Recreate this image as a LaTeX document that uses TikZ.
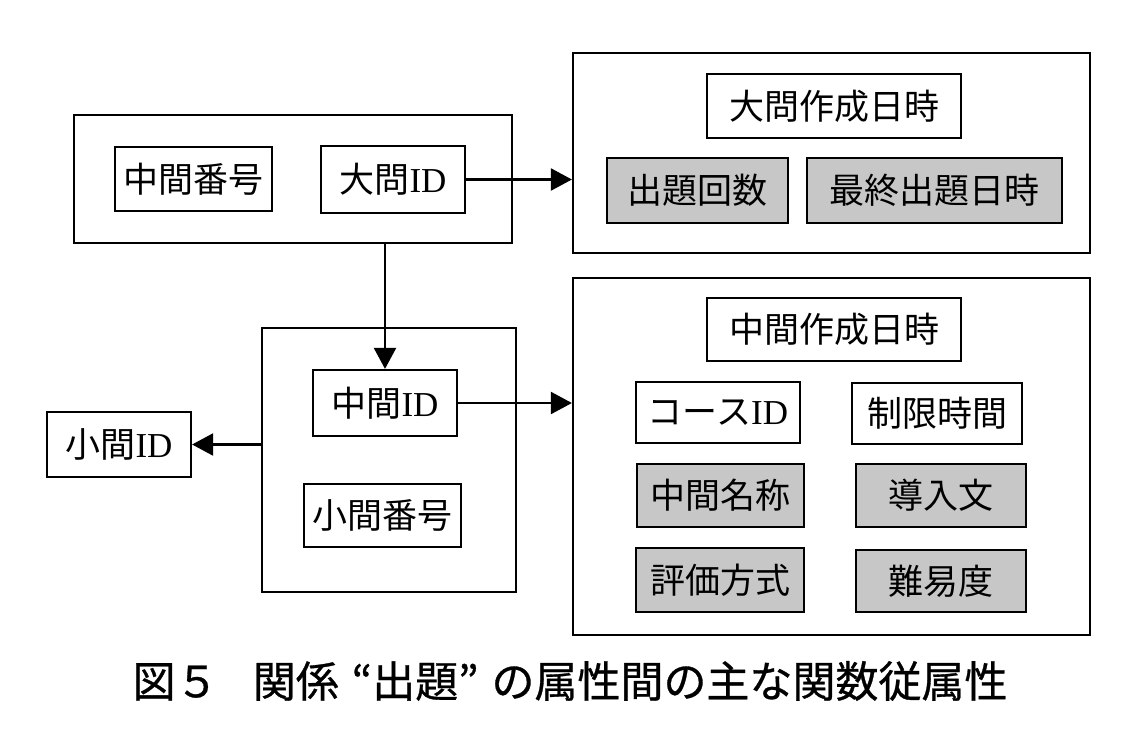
\documentclass[tikz,border=0pt]{standalone}
\usepackage{fontspec}
\setmainfont{Liberation Serif}
\newfontfamily\cjkfont{Noto Sans CJK JP}
\newfontfamily\capfont[FakeBold=0.7]{Noto Sans CJK JP}
\usetikzlibrary{arrows.meta}
\newcommand\jp[1]{{\cjkfont #1}}
\tikzset{
  frame/.style={draw=black, line width=2.2pt, inner sep=0pt},
  attr/.style={draw=black, line width=2.2pt, inner sep=0pt, font=\fontsize{35}{40}\selectfont},
  keyattr/.style={attr, fill=black!22},
  arr/.style={line width=2.2pt, -{Triangle[length=21pt,width=22pt]}}
}
\begin{document}
\begin{tikzpicture}[x=1pt,y=-1pt]
\useasboundingbox (0,0) rectangle (1146,750);
% frames
\node[frame, minimum width=438pt, minimum height=128pt] (box1) at (293,179) {};
\node[frame, minimum width=517pt, minimum height=200pt] (box2) at (831.5,153) {};
\node[frame, minimum width=254pt, minimum height=264pt] (box3) at (389,460) {};
\node[frame, minimum width=517pt, minimum height=357pt] (box4) at (831.5,456.5) {};
% box1 contents
\node[attr, minimum width=157pt, minimum height=64pt] (chubangou) at (193.5,179) {\jp{中間番号}};
\node[attr, minimum width=144pt, minimum height=67pt] (daiID) at (393,179.5) {\jp{大問}ID};
% box2 contents
\node[attr, minimum width=254pt, minimum height=64pt] (daisakusei) at (834,106) {\jp{大問作成日時}};
\node[keyattr, minimum width=181pt, minimum height=65pt] (kaisu) at (697.5,190.5) {\jp{出題回数}};
\node[keyattr, minimum width=255pt, minimum height=65pt] (saishu) at (934.5,190.5) {\jp{最終出題日時}};
% box3 contents
\node[attr, minimum width=144pt, minimum height=66pt] (chuID) at (385,403) {\jp{中間}ID};
\node[attr, minimum width=157pt, minimum height=63pt] (shobangou) at (382.5,515.5) {\jp{小間番号}};
\node[attr, minimum width=144pt, minimum height=65pt] (shoID) at (119,444.5) {\jp{小間}ID};
% box4 contents
\node[attr, minimum width=254pt, minimum height=63pt] (chusakusei) at (834,329.5) {\jp{中間作成日時}};
\node[attr, minimum width=164pt, minimum height=61pt] (course) at (718,412.5) {\jp{コース}ID};
\node[attr, minimum width=170pt, minimum height=61pt] (seigen) at (937,413.5) {\jp{制限時間}};
\node[keyattr, minimum width=167pt, minimum height=63pt] (meisho) at (720.5,495.5) {\jp{中間名称}};
\node[keyattr, minimum width=170pt, minimum height=63pt] (dounyu) at (941,495.5) {\jp{導入文}};
\node[keyattr, minimum width=168pt, minimum height=64pt] (hyouka) at (720,580) {\jp{評価方式}};
\node[keyattr, minimum width=170pt, minimum height=62pt] (nanido) at (941,581) {\jp{難易度}};
% connectors
\draw[arr] (daiID.east) -- (daiID.east -| box2.west);
\draw[arr] (box1.south -| chuID.north) -- (chuID.north);
\draw[arr] (chuID.east) -- (chuID.east -| box4.west);
\draw[arr] (shoID.east -| box3.west) -- (shoID.east);
% caption
\node[font=\capfont\fontsize{43}{48}\selectfont, inner sep=0pt] (caption) at (570,681) {図５\hspace{0.8em}関係\hspace{0.3em}“出題”\hspace{0.3em}の属性間の主な関数従属性};
\end{tikzpicture}
\end{document}
